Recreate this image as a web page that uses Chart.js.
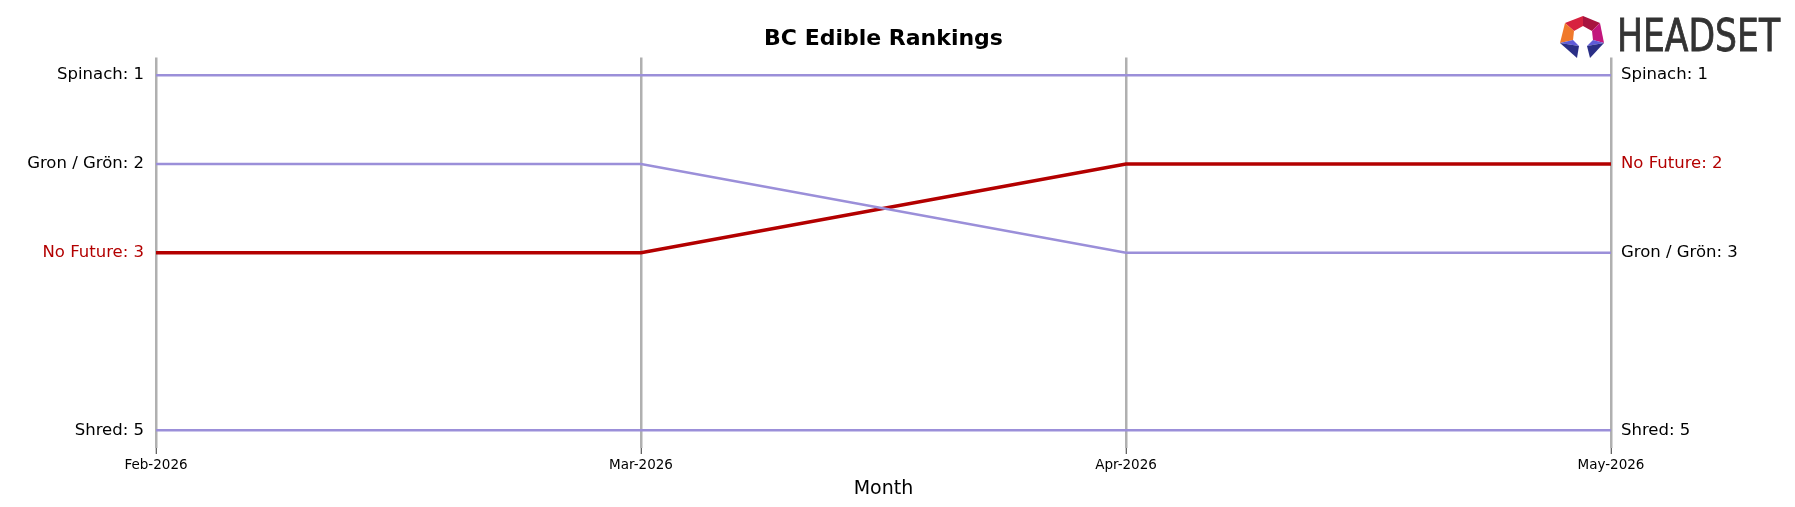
<!DOCTYPE html>
<html>
<head>
<meta charset="utf-8">
<script src="https://cdn.jsdelivr.net/npm/chart.js@4/dist/chart.umd.min.js"></script>
<style>
  body { margin: 0; background: #fff; }
  #wrap { position: relative; width: 1795px; height: 507px; }
  #logo { position: absolute; left: 1555px; top: 12px; }
</style>
</head>
<body>
<div id="wrap">
  <canvas id="rankChart"></canvas>
  <svg id="logo" width="235" height="52" viewBox="0 0 235 52">
    <polygon points="28,4 10,11 19,19 28,14" fill="#d7223f"/>
    <polygon points="28,4 45,11 37,19 28,14" fill="#a8143f"/>
    <polygon points="10,11 5,31 18,28 19,19" fill="#f0792b"/>
    <polygon points="45,11 49,31 38,28 37,19" fill="#c2167c"/>
    <polygon points="5,31 18,28 24,34" fill="#5e5bd8"/>
    <polygon points="5,31 24,34 22,46" fill="#2a2f86"/>
    <polygon points="49,31 38,28 32,34" fill="#5e5bd8"/>
    <polygon points="49,31 32,34 35,46" fill="#2a2f86"/>
    <text x="62" y="39" font-family="DejaVu Sans Condensed, Liberation Sans Narrow, sans-serif" font-size="44" fill="#333" stroke="#333" stroke-width="0.8" textLength="163" lengthAdjust="spacingAndGlyphs">HEADSET</text>
  </svg>
</div>
<script>
// Months on the x axis
const months = ["Feb-2026", "Mar-2026", "Apr-2026", "May-2026"];

// Rank per month for each brand
const brandNames = ["Spinach", "Gron / Grön", "No Future", "Shred"];
const spinachRanks = [1, 1, 1, 1];
const gronRanks = [2, 2, 3, 3];
const noFutureRanks = [3, 3, 2, 2];
const shredRanks = [5, 5, 5, 5];
const allRanks = [spinachRanks, gronRanks, noFutureRanks, shredRanks];

const highlight = "No Future";
const purple = "#9b8fd9";
const red = "#b30000";

// label for a rank in a given month column
function nameAt(rank, col) {
  for (let i = 0; i < brandNames.length; i++) {
    if (allRanks[i][col] === rank) return brandNames[i];
  }
  return null;
}

function rankTicks(col) {
  return scale => {
    scale.ticks = allRanks.map(r => r[col]).sort((a, b) => a - b).map(v => ({ value: v }));
  };
}

function labelColor(col) {
  return ctx => nameAt(ctx.tick.value, col) === highlight ? red : "#000";
}

const datasets = brandNames.map((name, i) => ({
  label: name,
  data: allRanks[i],
  borderColor: name === highlight ? red : purple,
  borderWidth: name === highlight ? 3.5 : 2.5,
  pointRadius: 0,
  tension: 0,
  yAxisID: "y"
}));

const font = "'DejaVu Sans', sans-serif";
const last = months.length - 1;

new Chart(document.getElementById("rankChart"), {
  type: "line",
  data: { labels: months, datasets },
  options: {
    responsive: true,
    maintainAspectRatio: false,
    animation: false,
    layout: { padding: 0 },
    plugins: {
      legend: { display: false },
      tooltip: { enabled: false },
      title: {
        display: true,
        text: "BC Edible Rankings",
        fullSize: false,
        color: "#000",
        font: { family: font, size: 22, weight: "bold" },
        padding: { top: 26, bottom: 5 }
      }
    },
    scales: {
      x: {
        type: "category",
        offset: false,
        z: 1,
        border: { display: false },
        grid: {
          color: "#b0b0b0",
          lineWidth: 2.5,
          drawTicks: true,
          tickLength: 6,
          tickColor: "#333",
          tickWidth: 1
        },
        ticks: { color: "#000", font: { family: font, size: 13.5 }, padding: 3, maxRotation: 0 },
        title: {
          display: true,
          text: "Month",
          color: "#000",
          font: { family: font, size: 19 },
          padding: { top: 0, bottom: 7 }
        },
        afterFit: s => { s.height = 59; }
      },
      y: {
        position: "left",
        min: 0.8,
        max: 5.2,
        reverse: true,
        border: { display: false },
        grid: { display: false, drawTicks: false },
        afterBuildTicks: rankTicks(0),
        ticks: {
          font: { family: font, size: 16.5 },
          padding: 12,
          color: labelColor(0),
          callback: v => nameAt(v, 0) + ": " + v
        },
        afterFit: s => { s.width = 156; }
      },
      y2: {
        position: "right",
        min: 0.8,
        max: 5.2,
        reverse: true,
        border: { display: false },
        grid: { display: false, drawTicks: false },
        afterBuildTicks: rankTicks(last),
        ticks: {
          font: { family: font, size: 16.5 },
          padding: 10,
          color: labelColor(last),
          callback: v => nameAt(v, last) + ": " + v
        },
        afterFit: s => { s.width = 184; }
      }
    }
  }
});
</script>
</body>
</html>
